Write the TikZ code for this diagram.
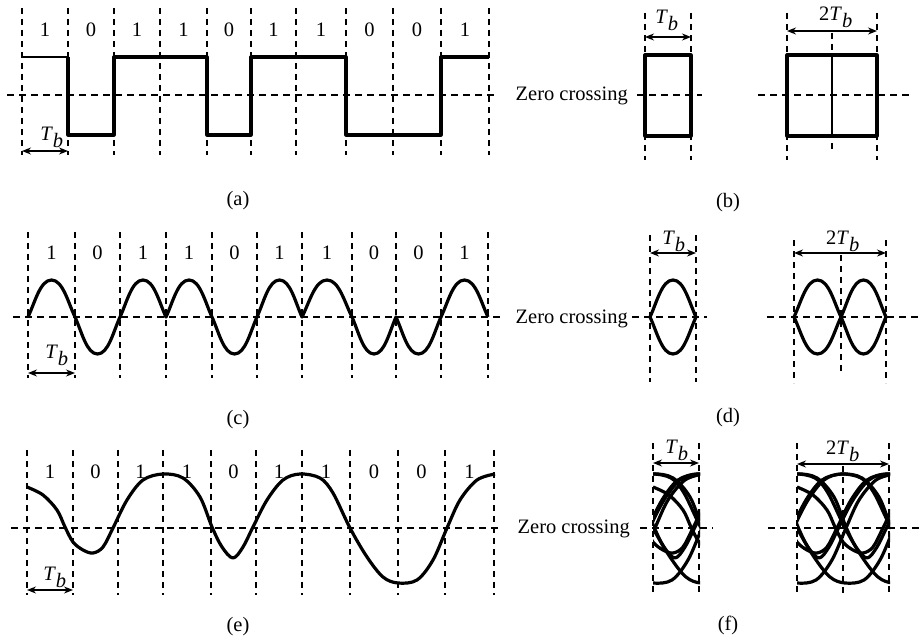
\documentclass[tikz,border=0pt]{standalone}
\usepackage{fontspec}
\setmainfont{Liberation Serif}
\usetikzlibrary{arrows.meta}
\newcommand\lobeseg[4]{.. controls ({#1+0.15*(#2-#1)},{#3-0.4*(#4)}) and ({#1+0.26*(#2-#1)},{#3-(#4)}) .. ({(#1+#2)/2},{#3-(#4)}) .. controls ({#2-0.26*(#2-#1)},{#3-(#4)}) and ({#2-0.15*(#2-#1)},{#3-0.4*(#4)}) .. (#2,#3)}
\def\ewave{plot[smooth,tension=0.55] coordinates {(27,487) (43,495) (57,510) (65,527) (73,542) (83,550) (93,553) (103,547) (113,528) (127,500) (143,480) (163,474) (183,478) (200,497) (212,527) (222,547) (233,558) (243,547) (253,527) (267,500) (283,480) (300,474) (320,478) (333,493) (350,528) (367,557) (383,577) (398,583) (417,580) (433,560) (447,528) (460,500) (477,480) (495,474)}}
\begin{document}
\begin{tikzpicture}[x=1pt,y=-1pt,
  vdash/.style={line width=1.2pt,dash pattern=on 6pt off 5pt},
  zdash/.style={line width=1.3pt,dash pattern=on 7pt off 5pt},
  wave/.style={line width=3.2pt,line join=round},
  dim/.style={line width=1.4pt,{Stealth[length=9pt,width=7pt]}-{Stealth[length=9pt,width=7pt]}},
  lbl/.style={font=\fontsize{20.5}{23}\selectfont, inner sep=0pt},
]
\useasboundingbox (0,0) rectangle (922,642);

% ---------- (a) ----------
\foreach \x in {22,68,114,160,207,251,296,346,393,441,489} \draw[vdash] (\x,8) -- (\x,155);
\draw[zdash] (7,95) -- (495,95);
\foreach \x/\b [count=\i] in {45/1,91/0,137/1,183.5/1,229/0,273.5/1,321/1,369.5/0,417/0,465/1}
  \node[lbl] (abit\i) at (\x,30) {\b};
\draw[line width=1.8pt] (22,57) -- (68,57);
\draw[wave] (68,57) -- (68,135) -- (114,135) -- (114,57) -- (207,57) -- (207,135) -- (251,135) -- (251,57) -- (346,57) -- (346,135) -- (441,135) -- (441,57) -- (489,57);
\coordinate (aL) at (22,151); \coordinate (aR) at (68,151);
\draw[dim] (aL) -- (aR);
\node[lbl] (aTb) at (52,137) {\textit{T}$_{\textit{b}}$};
\node[lbl] (alab) at (238,201) {(a)};

% ---------- (b) ----------
\node[lbl, anchor=base east] (zc1) at (628,100) {Zero crossing};
\draw[zdash] (637,95) -- (702,95);
\foreach \x in {645,691} \draw[vdash] (\x,13) -- (\x,160);
\draw[wave] (645,55) rectangle (691,136);
\coordinate (bL) at (645,37); \coordinate (bR) at (691,37);
\draw[dim] (bL) -- (bR);
\node[lbl] (bTb) at (667,20) {\textit{T}$_{\textit{b}}$};
\draw[zdash] (758,95) -- (913,95);
\foreach \x in {787,877} \draw[vdash] (\x,13) -- (\x,160);
\draw[vdash] (832,33) -- (832,150);
\draw[wave] (787,55) rectangle (877,136);
\draw[line width=2.2pt] (832,55) -- (832,136);
\coordinate (bbL) at (787,31); \coordinate (bbR) at (877,31);
\draw[dim] (bbL) -- (bbR);
\node[lbl] (bbTb) at (836,17) {2\textit{T}$_{\textit{b}}$};
\node[lbl] (blab) at (728,203) {(b)};

% ---------- (c) ----------
\foreach \x in {28,75,120,166,212,257,302,352,396,441,488} \draw[vdash] (\x,232) -- (\x,378);
\draw[zdash] (13,317) -- (500,317);
\foreach \x/\b [count=\i] in {51.5/1,97.5/0,143/1,189/1,234.5/0,279.5/1,327/1,374/0,418.5/0,464.5/1}
  \node[lbl] (cbit\i) at (\x,253) {\b};
\draw[wave] (28,317) \foreach \xa/\xb/\s in {28/75/37,75/120/-37,120/166/37,166/212/37,212/257/-37,257/302/37,302/352/37,352/396/-37,396/441/-37,441/488/37} {\lobeseg{\xa}{\xb}{317}{\s}};
\coordinate (cL) at (28,373); \coordinate (cR) at (75,373);
\draw[dim] (cL) -- (cR);
\node[lbl] (cTb) at (57,355) {\textit{T}$_{\textit{b}}$};
\node[lbl] (clab) at (238,420) {(c)};

% ---------- (d) ----------
\node[lbl, anchor=base east] (zc2) at (628,323) {Zero crossing};
\draw[zdash] (632,317) -- (707,317);
\foreach \x in {650,696} \draw[vdash] (\x,235) -- (\x,382);
\draw[wave] (650,317) \lobeseg{650}{696}{317}{37};
\draw[wave] (650,317) \lobeseg{650}{696}{317}{-37};
\coordinate (dL) at (650,253); \coordinate (dR) at (696,253);
\draw[dim] (dL) -- (dR);
\node[lbl] (dTb) at (674,241) {\textit{T}$_{\textit{b}}$};
\draw[zdash] (767,317) -- (920,317);
\foreach \x in {794,886} \draw[vdash] (\x,240) -- (\x,383);
\draw[vdash] (841,255) -- (841,375);
\draw[wave] (794,317) \lobeseg{794}{841}{317}{37} \lobeseg{841}{886}{317}{37};
\draw[wave] (794,317) \lobeseg{794}{841}{317}{-37} \lobeseg{841}{886}{317}{-37};
\coordinate (ddL) at (794,253); \coordinate (ddR) at (886,253);
\draw[dim] (ddL) -- (ddR);
\node[lbl] (ddTb) at (843,241) {2\textit{T}$_{\textit{b}}$};
\node[lbl] (dlab) at (728,418) {(d)};

% ---------- (e) ----------
\foreach \x in {27,73,118,163,211,256,302,350,398,445,494} \draw[vdash] (\x,450) -- (\x,595);
\draw[zdash] (11,528) -- (500,528);
\foreach \x/\b [count=\i] in {50/1,95.5/0,140.5/1,187/1,233.5/0,279/1,326/1,374/0,421.5/0,469.5/1}
  \node[lbl] (ebit\i) at (\x,472) {\b};
\draw[wave] \ewave;
\coordinate (eL) at (27,590); \coordinate (eR) at (73,590);
\draw[dim] (eL) -- (eR);
\node[lbl] (eTb) at (55,577) {\textit{T}$_{\textit{b}}$};
\node[lbl] (elab) at (238,627) {(e)};

% ---------- (f) ----------
\node[lbl, anchor=base east] (zc3) at (630,533) {Zero crossing};
\draw[zdash] (640,528) -- (713,528);
\foreach \x in {653,699} \draw[vdash] (\x,443) -- (\x,594);
\begin{scope}
  \clip (653,430) rectangle (700,610);
  \foreach \b in {27,73,118,163,211,256,302,350,398,445}
    \draw[wave, xshift={(653-\b)*1pt}] \ewave;
\end{scope}
\coordinate (fL) at (653,463); \coordinate (fR) at (699,463);
\draw[dim] (fL) -- (fR);
\node[lbl] (fTb) at (677,450) {\textit{T}$_{\textit{b}}$};
\draw[zdash] (768,528) -- (922,528);
\foreach \x in {797,889} \draw[vdash] (\x,443) -- (\x,594);
\draw[vdash] (843,466) -- (843,594);
\begin{scope}
  \clip (797,430) rectangle (890,610);
  \foreach \b in {27,73,118,163,211,256,302,350,398}
    \draw[wave, xshift={(797-\b)*1pt}] \ewave;
\end{scope}
\coordinate (ffL) at (797,464); \coordinate (ffR) at (889,464);
\draw[dim] (ffL) -- (ffR);
\node[lbl] (ffTb) at (843,451) {2\textit{T}$_{\textit{b}}$};
\node[lbl] (flab) at (728,625) {(f)};
\end{tikzpicture}
\end{document}
